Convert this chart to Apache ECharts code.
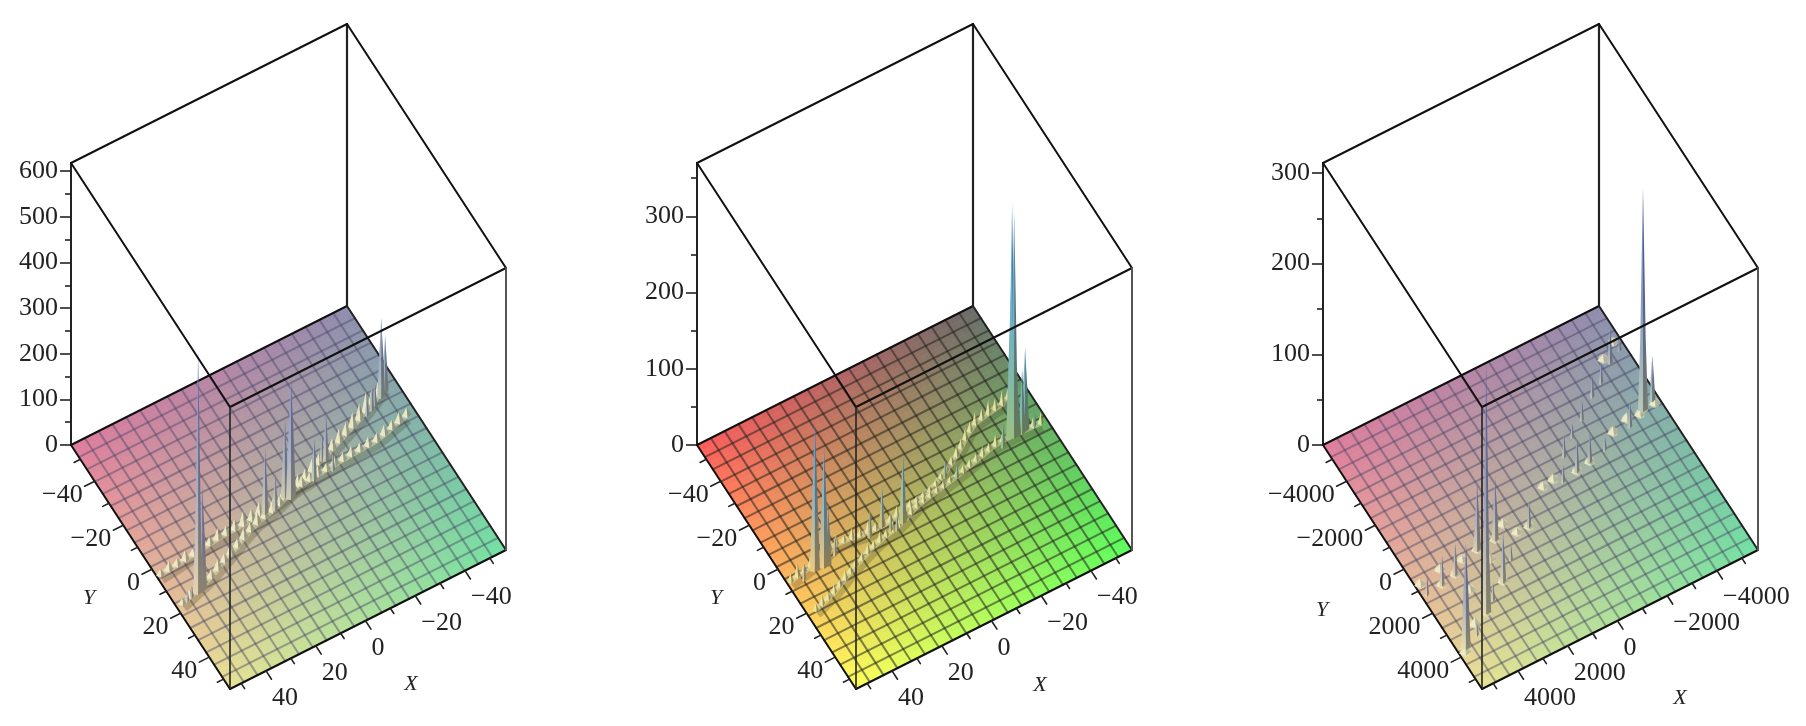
<!DOCTYPE html>
<html><head><meta charset="utf-8">
<style>html,body{margin:0;padding:0;background:#fff}#c{width:1806px;height:726px;filter:blur(.55px)}</style>
<script src="https://cdn.jsdelivr.net/npm/echarts@6/dist/echarts.min.js"></script>
</head><body><div id="c"></div>
<script>
// ---- axis values ----
const zTicksA=[0,100,200,300,400,500,600], zMinorA=[50,150,250,350,450,550];
const zTicksB=[0,100,200,300], zMinorB=[50,150,250,350];
const zTicksC=[0,100,200,300], zMinorC=[50,150,250];
const xyTicksAB=[-40,-20,0,20,40], xyMinorAB=[-50,-30,-10,10,30,50];
const xyTicksC=[-4000,-2000,0,2000,4000], xyMinorC=[-5000,-3000,-1000,1000,3000,5000];
// ---- peaks: [X, Y, height] ----
const spikesA=[[45.2,16.1,533],[43.4,15.8,230],[-1.6,-.3,259],[0,-1.8,175],[9.2,.3,145],[5.5,1,81],[-12.2,-2.6,94],[-19.7,-7.4,103],[-18.5,-8.1,59],[-19.9,-2.7,37],[-48.9,-19.4,175],[-51.1,-20.5,125],[-45.4,-17.8,48],[-43.5,-16.6,59],[-41,-15.7,33],[48,16.5,26],[50,17,22]];
const spikesB=[[43.5,6.7,193],[40.1,7.2,157],[38.5,7.2,83],[34.4,5,26],[48.7,8.2,22],[7.5,5.7,92],[14.7,3.5,55],[20.3,4.8,38],[12.6,6.1,22],[10.7,7.1,20],[-14.3,-2.7,22],[-17.9,-.6,18],[-42.5,-4.9,307],[-43.1,-4.5,295],[-42.2,-5.1,197],[-47.8,-5,109],[-46.3,-4.5,85],[-44.7,-4.5,55],[-37.8,-3,31],[-51.7,-5.1,16]];
const spikesC=[[3820,2910,276],[5130,3770,117],[2860,610,77],[2110,570,70],[2700,2150,55],[3360,2590,19],[2030,1530,17],[830,710,28],[4010,1080,35],[4610,1200,33],[5260,1280,20],[4540,3520,13],[-1090,-240,19],[-1610,-1080,24],[-1710,-350,37],[-2290,-460,33],[-2250,-1620,15],[-2990,-620,14],[-2880,-2040,22],[-4930,-1330,246],[-5400,-1490,50],[-5400,-1500,30],[-4860,-3510,40],[-4190,-2970,23],[-3650,-2650,24],[-4200,-970,28],[-5400,-3780,11]];
// ---- ridge crests: [X, Y, height] ----
const ridgeUpperA=[[53,3.4,14],[49.5,3.1,20],[46,2.8,16],[42.5,2.4,22],[39,2,15],[35.5,1.6,20],[32,1.2,17],[28.5,.8,24],[25,.5,18],[21.5,.4,22],[18,.3,30],[14.5,0,24],[11,-.6,28],[7.5,-1,20],[4,-1.4,26],[.5,-2,22],[-3,-3,18],[-6.5,-3.9,24],[-10,-5,20],[-13.5,-6.3,26],[-17,-7.7,22],[-20.5,-8.9,28],[-24,-10.3,24],[-27.5,-11.6,30],[-31,-13,26],[-34.5,-14.4,32],[-38,-15.7,36],[-41.5,-17.2,44],[-45,-18.8,40],[-48.5,-20.5,36],[-52,-22.3,30]];
const ridgeLowerA=[[52,16.9,12],[48.5,15.9,18],[45,14.8,15],[41.5,13.8,20],[38,12.7,16],[34.5,11.2,22],[31,9.7,18],[27.5,8.2,24],[24,6.7,18],[20.5,5,22],[17,3.5,18],[13.5,2.2,24],[10,1.5,20],[6.5,.7,22],[3,-.4,18],[-.5,-1.6,22],[-4,-2.8,16],[-7.5,-3.2,20],[-11,-3.5,16],[-14.5,-3.9,20],[-18,-4.1,15],[-21.5,-4.4,20],[-25,-4.7,16],[-28.5,-4.9,20],[-32,-5.1,16],[-35.5,-5.2,20],[-39,-5.4,18],[-42.5,-6.2,22],[-46,-7.1,18],[-49.5,-8,22],[-53,-8.8,18]];
const ridgeUpperB=[[53,6.3,12],[50,5.7,18],[47,5.2,10],[44,4.6,16],[41,3.9,12],[38,3.1,14],[35,2.3,10],[32,1.5,14],[29,1.6,8],[26,2,14],[23,2.5,9],[20,2.9,16],[17,3,10],[14,3,14],[11,2.8,10],[8,2.2,14],[5,1.6,10],[2,1,8],[-1,.4,6],[-4,-.1,6],[-7,-.8,5],[-10,-1.9,6],[-13,-3.4,5],[-16,-4.9,8],[-19,-6.5,10],[-22,-8.2,14],[-25,-10.3,11],[-28,-12.4,15],[-31,-14.4,12],[-34,-16,16],[-37,-16.6,13],[-40,-17.1,18],[-43,-17.6,14],[-46,-18,18],[-49,-19,14],[-52,-20.3,10]];
const ridgeLowerB=[[51,20.4,8],[48,19.5,12],[45,18.5,7],[42,17.5,11],[39,16.1,8],[36,14.8,12],[33,13.3,7],[30,12,11],[27,10.8,8],[24,9.7,12],[21,8.6,8],[18,7.7,12],[15,7,8],[12,6.4,13],[9,5.7,10],[6,4.6,14],[3,3.5,10],[0,2.4,8],[-3,1.7,6],[-6,1.1,6],[-9,.6,6],[-12,0,7],[-15,-.6,6],[-18,-1.2,7],[-21,-1.8,8],[-24,-2.5,10],[-27,-3.2,9],[-30,-3.9,12],[-33,-4.6,10],[-36,-5.2,14],[-39,-5.4,12],[-42,-5.4,16],[-45,-5.3,13],[-48,-5.2,16],[-51,-5,12],[-54,-4.8,14]];
const bumpsC=[[-380,-410,6],[-820,-480,7],[1580,190,7],[1320,710,6],[2660,1170,7],[3860,1860,6],[5250,3920,8],[4400,3140,9],[4380,650,7],[5270,820,7],[3510,690,5],[-3570,-1060,8],[-4240,-1270,9],[-4740,-1210,8],[-5400,-1330,7],[-4710,-3730,6],[-5340,-4140,5],[3820,2910,8],[5130,3770,8],[2860,610,8],[2110,570,8],[2700,2150,7],[830,710,6],[4010,1080,7],[4610,1200,7],[-1710,-350,7],[-2290,-460,7],[-4930,-1330,8]];

const FONT='"Liberation Serif","Times New Roman",serif';
const panels=[
 {left:71, min:-56.5,max:54.5,zMax:618,zT:zTicksA,zM:zMinorA,t:xyTicksAB,m:xyMinorAB,spikes:spikesA,ridges:[ridgeUpperA,ridgeLowerA],bumps:[],
  c:{L:'#e07c9c',Ba:'#908cae',Bo:'#e8e294',R:'#72e0a2'},grid:'rgba(70,70,100,.46)',tip:[130,145,215],teeth:['#efebc6','#85866f'],hw:4.5,light:.42,labY:[18,153],labX:[340,239]},
 {left:697,min:-56.5,max:54.5,zMax:370,zT:zTicksB,zM:zMinorB,t:xyTicksAB,m:xyMinorAB,spikes:spikesB,ridges:[ridgeUpperB,ridgeLowerB],bumps:[],
  c:{L:'#ff5c5c',Ba:'#6c6a6a',Bo:'#ffff5c',R:'#5cff5c'},grid:'rgba(35,35,30,.55)',tip:[90,170,225],teeth:['#e9e6a6','#77763f'],hw:3,light:.25,labY:[19,153],labX:[343,240]},
 {left:1323,min:-5650,max:5450,zMax:311,zT:zTicksC,zM:zMinorC,t:xyTicksC,m:xyMinorC,spikes:spikesC,ridges:[],bumps:bumpsC,
  c:{L:'#e07c9c',Ba:'#908cae',Bo:'#e8e294',R:'#72e0a2'},grid:'rgba(70,70,100,.46)',tip:[110,125,205],teeth:['#f0ecc8','#a5a790'],hw:6,light:.42,labY:[-1,165],labX:[357,253]}
];
const TILES=40, CELLS=20;
function proj(p,X,Y,Z){const r=p.max-p.min,a=(Y-p.min)/r,s=(p.max-X)/r;return [a*159+s*276, Z-(a*244-s*139)*p.zMax/282];}
function rgb(h){return [parseInt(h.slice(1,3),16),parseInt(h.slice(3,5),16),parseInt(h.slice(5,7),16)];}
function css(c){return 'rgb('+c.map(v=>Math.round(Math.max(0,Math.min(255,v)))).join(',')+')';}
function mix(a,b,t){return a.map((v,i)=>v+(b[i]-v)*t);}
function floorColor(p,a,s){
 const L=rgb(p.c.L),Ba=rgb(p.c.Ba),Bo=rgb(p.c.Bo),R=rgb(p.c.R);
 return mix(mix(L,Ba,s),mix(Bo,R,s),a);
}
function line(a,b,stroke,w){return {type:'line',shape:{x1:a[0],y1:a[1],x2:b[0],y2:b[1]},style:{stroke,lineWidth:w,lineCap:'round'}};}
function floorSeries(i,p){return {type:'custom',coordinateSystem:'cartesian2d',xAxisIndex:i,yAxisIndex:2*i,silent:true,animation:false,data:[[0,0]],
 renderItem(par,api){
  const ch=[],r=p.max-p.min,P=(a,s)=>api.coord(proj(p,p.max-s*r,p.min+a*r,0));
  for(let j=0;j<TILES;j++)for(let k=0;k<TILES;k++){
   const a0=j/TILES,a1=(j+1)/TILES,s0=k/TILES,s1=(k+1)/TILES,col=css(floorColor(p,(a0+a1)/2,(s0+s1)/2));
   ch.push({type:'polygon',shape:{points:[P(a0,s0),P(a1,s0),P(a1,s1),P(a0,s1)]},style:{fill:col,stroke:col,lineWidth:.7}});
  }
  for(let n=1;n<CELLS;n++){
   ch.push(line(P(n/CELLS,0),P(n/CELLS,1),p.grid,2));
   ch.push(line(P(0,n/CELLS),P(1,n/CELLS),p.grid,2));
  }
  return {type:'group',children:ch};
 }};}
function tickSeries(i,p){const vals=p.t.map(v=>[v,1]).concat(p.m.map(v=>[v,0]));
 return {type:'custom',coordinateSystem:'cartesian2d',xAxisIndex:i,yAxisIndex:2*i,silent:true,animation:false,data:vals,encode:{x:0,y:1},
 renderItem(par,api){
  const v=api.value(0),maj=api.value(1),r=p.max-p.min,u=r/111,ch=[];
  const ax=api.coord(proj(p,p.max,v,0)),ay=api.coord(proj(p,p.max+(maj?4:2.5)*u,v,0));
  const bx=api.coord(proj(p,v,p.max,0)),by=api.coord(proj(p,v,p.max+(maj?3.8:2.4)*u,0));
  ch.push(line(ax,ay,'#222',1.6),line(bx,by,'#222',1.6));
  if(maj){const t=(v<0?'\u2212':'')+Math.abs(v);
   ch.push({type:'text',style:{text:t,x:ax[0]-12,y:ax[1]+14,align:'right',verticalAlign:'middle',font:'26px '+FONT,fill:'#222'}});
   ch.push({type:'text',style:{text:t,x:bx[0]+6,y:bx[1]+27,align:'left',verticalAlign:'middle',font:'26px '+FONT,fill:'#222'}});
  }
  return {type:'group',children:ch};
 }};}
function labelSeries(i,p){return {type:'custom',coordinateSystem:'cartesian2d',xAxisIndex:i,yAxisIndex:2*i,silent:true,animation:false,data:[[0,0]],
 renderItem(par,api){const o=api.coord([0,0]);
  const f='italic 22px '+FONT;
  return {type:'group',children:[
   {type:'text',style:{text:'Y',x:o[0]+p.labY[0],y:o[1]+p.labY[1],align:'center',verticalAlign:'middle',font:f,fill:'#222'}},
   {type:'text',style:{text:'X',x:o[0]+p.labX[0],y:o[1]+p.labX[1],align:'center',verticalAlign:'middle',font:f,fill:'#222'}}]};
 }};}
function boxSeries(i,p,front){return {type:'custom',coordinateSystem:'cartesian2d',xAxisIndex:i,yAxisIndex:2*i,silent:true,animation:false,data:[[0,0]],
 renderItem(par,api){
  const Q=(X,Y,Z)=>api.coord(proj(p,X,Y,Z)),a=p.min,b=p.max,z=p.zMax;
  const L=Q(b,a,0),Ba=Q(a,a,0),Bo=Q(b,b,0),R=Q(a,b,0),Lt=Q(b,a,z),Bat=Q(a,a,z),Bot=Q(b,b,z),Rt=Q(a,b,z);
  const ch=front?[line(Lt,Bot,'#111',2),line(Bot,Rt,'#111',2),line(Bot,Bo,'#222',1.6),line(R,Rt,'#555',2)]
   :[line(L,Ba,'#111',2),line(L,Bo,'#111',2),line(Bo,R,'#111',2),line(R,Ba,'#222',2),line(Ba,Bat,'#222',2.2),line(Lt,Bat,'#111',2),line(Bat,Rt,'#111',2)];
  return {type:'group',children:ch};
 }};}
function bandSeries(i,p,arr){return {type:'custom',coordinateSystem:'cartesian2d',xAxisIndex:i,yAxisIndex:2*i,silent:true,animation:false,data:[[0,0]],
 renderItem(par,api){
  const pts=arr.map(d=>api.coord(proj(p,d[0],d[1],0)));
  return {type:'group',children:[
   {type:'polyline',shape:{points:pts.map(q=>[q[0]+2,q[1]+5])},style:{fill:null,stroke:'rgba(60,60,40,.26)',lineWidth:8,lineJoin:'round'}},
   {type:'polyline',shape:{points:pts},style:{fill:null,stroke:'rgba(240,236,195,.45)',lineWidth:6,lineJoin:'round'}}]};
 }};}
function toothSeries(i,p,arr){const hw=p.hw,sorted=arr.slice().sort((m,n)=>proj(p,n[0],n[1],0)[1]-proj(p,m[0],m[1],0)[1]);
 return {type:'custom',coordinateSystem:'cartesian2d',xAxisIndex:i,yAxisIndex:2*i,silent:true,animation:false,data:sorted,encode:{x:0,y:2},
 renderItem(par,api){
  const X=api.value(0),Y=api.value(1),Z=api.value(2),b=api.coord(proj(p,X,Y,0)),t=api.coord(proj(p,X,Y,Z));
  const ch=[];
  if(hw>5)ch.push({type:'circle',shape:{cx:b[0],cy:b[1]-1,r:hw-1},style:{fill:'rgba(240,236,195,.5)'}});
  ch.push(
   {type:'polygon',shape:{points:[[b[0]-hw,b[1]+1],t,[b[0]+1,b[1]+3]]},style:{fill:p.teeth[0],opacity:.92}},
   {type:'polygon',shape:{points:[t,[b[0]+hw,b[1]-1],[b[0]+1,b[1]+3]]},style:{fill:p.teeth[1],opacity:.7}});
  return {type:'group',children:ch};
 }};}
function spikeSeries(i,p){const sorted=p.spikes.slice().sort((m,n)=>proj(p,n[0],n[1],0)[1]-proj(p,m[0],m[1],0)[1]);
 return {type:'custom',coordinateSystem:'cartesian2d',xAxisIndex:i,yAxisIndex:2*i,silent:true,animation:false,data:sorted,encode:{x:0,y:2},
 renderItem(par,api){
  const X=api.value(0),Y=api.value(1),Z=api.value(2),r=p.max-p.min;
  const b=api.coord(proj(p,X,Y,0)),t=api.coord(proj(p,X,Y,Z)),h=b[1]-t[1];
  const fc=floorColor(p,(Y-p.min)/r,(p.max-X)/r);
  const hw=Math.max(2,Math.min(5,1.6+h*.03)),tw=Math.max(.8,Math.min(1.4,h*.012)),bend=b[1]-Math.min(h*.5,70);
  const lightBase=mix(mix(fc,[235,232,200],p.light),[255,255,255],.06),darkBase=mix(lightBase,[50,50,40],.5);
  const tf=Math.min(1,h/140),tipC=mix(mix(fc,[225,225,225],.3),p.tip,.3+.7*tf),tipD=mix(tipC,[30,40,70],.45);
  const lg={type:'linear',x:0,y:1,x2:0,y2:0,colorStops:[{offset:0,color:css(lightBase)},{offset:.45,color:css(mix(lightBase,tipC,.6))},{offset:1,color:css(tipC)}]};
  const dg={type:'linear',x:0,y:1,x2:0,y2:0,colorStops:[{offset:0,color:css(darkBase)},{offset:.45,color:css(mix(darkBase,tipD,.6))},{offset:1,color:css(tipD)}]};
  const x=b[0];
  return {type:'group',children:[
   {type:'polygon',shape:{points:[[x-hw,b[1]+1],[x-hw*.55,bend],[x-tw,(bend+t[1])/2],[x,t[1]],[x,b[1]+2]]},style:{fill:lg}},
   {type:'polygon',shape:{points:[[x,b[1]+2],[x,t[1]],[x+tw,(bend+t[1])/2],[x+hw*.55,bend],[x+hw,b[1]-1]]},style:{fill:dg}}]};
 }};}
const grids=[],xAxes=[],yAxes=[],series=[];
panels.forEach((p,i)=>{
 grids.push({left:p.left,top:163,width:435,height:282});
 xAxes.push({type:'value',gridIndex:i,min:0,max:435,show:false});
 yAxes.push({type:'value',gridIndex:i,min:0,max:p.zMax,position:'left',splitLine:{show:false},
  axisLine:{show:true,onZero:false,lineStyle:{color:'#222',width:2}},
  axisTick:{show:true,length:11,customValues:p.zT,lineStyle:{color:'#222',width:1.6}},
  axisLabel:{show:true,customValues:p.zT,margin:13,padding:[0,0,6,0],color:'#222',fontFamily:FONT,fontSize:26}});
 yAxes.push({type:'value',gridIndex:i,min:0,max:p.zMax,position:'left',splitLine:{show:false},
  axisLine:{show:false},axisLabel:{show:false},
  axisTick:{show:true,length:6,customValues:p.zM,lineStyle:{color:'#222',width:1.6}}});
 series.push(floorSeries(i,p),boxSeries(i,p,false),tickSeries(i,p),labelSeries(i,p));
 p.ridges.forEach(r=>series.push(bandSeries(i,p,r)));
 p.ridges.forEach(r=>series.push(toothSeries(i,p,r)));
 if(p.bumps.length)series.push(toothSeries(i,p,p.bumps));
 series.push(spikeSeries(i,p),boxSeries(i,p,true));
});
const chart=echarts.init(document.getElementById('c'),null,{renderer:'canvas'});
chart.setOption({animation:false,backgroundColor:'#fff',grid:grids,xAxis:xAxes,yAxis:yAxes,series});
</script></body></html>
